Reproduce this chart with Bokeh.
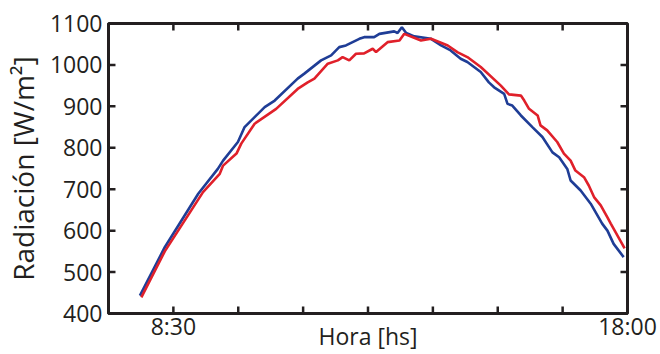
from bokeh.plotting import figure
from bokeh.models import FixedTicker, CustomJSTickFormatter, Range1d
from bokeh.embed import file_html
from bokeh.resources import INLINE

# Data (hours, W/m^2)
blue_h = [7.80, 8.32, 9.02, 9.43, 9.54, 9.85, 9.99, 10.41, 10.62, 11.10, 11.24, 11.59, 11.80,
          11.97, 12.11, 12.39, 12.49, 12.70, 12.81, 13.12, 13.19, 13.28, 13.37, 13.54, 13.89,
          14.10, 14.30, 14.51, 14.65, 14.93, 15.10, 15.21, 15.42, 15.49, 15.59, 15.77, 16.01,
          16.22, 16.43, 16.57, 16.74, 16.81, 17.02, 17.23, 17.47, 17.58, 17.71, 17.92]
blue_v = [443, 560, 689, 749, 769, 814, 850, 898, 914, 967, 979, 1011, 1023,
          1043, 1047, 1063, 1067, 1067, 1075, 1081, 1077, 1091, 1077, 1069, 1063,
          1047, 1035, 1015, 1007, 983, 958, 946, 930, 906, 902, 878, 850,
          826, 789, 777, 749, 721, 697, 665, 617, 600, 568, 536]

red_h = [7.83, 8.32, 9.12, 9.47, 9.54, 9.82, 9.92, 10.20, 10.65, 11.10, 11.31, 11.45, 11.73,
         11.94, 12.04, 12.18, 12.32, 12.49, 12.67, 12.74, 12.98, 13.23, 13.33, 13.51, 13.68,
         13.89, 14.24, 14.44, 14.65, 14.93, 15.35, 15.52, 15.77, 15.84, 15.94, 16.12, 16.18,
         16.32, 16.53, 16.67, 16.81, 16.91, 17.09, 17.19, 17.30, 17.44, 17.58, 17.65, 17.94]
red_v = [439, 550, 693, 737, 757, 786, 810, 858, 894, 942, 958, 967, 1003,
         1011, 1019, 1011, 1027, 1028, 1039, 1031, 1055, 1059, 1075, 1067, 1059,
         1063, 1047, 1031, 1019, 995, 950, 929, 926, 914, 894, 878, 854,
         842, 814, 786, 769, 745, 729, 709, 681, 661, 632, 617, 557]

x_start_label = 8.5
x_end_label = 18.0
n_intervals = 7
step = (x_end_label - x_start_label) / n_intervals
x_ticks = [x_start_label + k * step for k in range(-1, n_intervals + 1)]
y_ticks = [400, 500, 600, 700, 800, 900, 1000, 1100]

FONT = "Open Sans"
DARK = "#231f20"

x0, x1 = x_start_label - step, x_end_label
y0, y1 = 400, 1100

FW, FH = 520, 290   # frame size in px (for tick length conversion)
TICK_PX = 7

p = figure(width=660, height=354, output_backend="svg", toolbar_location=None,
           x_range=Range1d(x0, x1), y_range=Range1d(y0, y1),
           min_border_left=107, min_border_right=33, min_border_top=23, min_border_bottom=41)
p.grid.visible = False
p.outline_line_color = DARK
p.outline_line_width = 3
p.background_fill_color = "white"
p.border_fill_color = "white"

# inner ticks
dx = TICK_PX * (x1 - x0) / FW
dy = TICK_PX * (y1 - y0) / FH
xt_inner = [t for t in x_ticks if x0 < t < x1]
yt_inner = [t for t in y_ticks if y0 < t < y1]
tick_kw = dict(line_color=DARK, line_width=2.5)
p.segment(x0=xt_inner, y0=[y0] * len(xt_inner), x1=xt_inner, y1=[y0 + dy] * len(xt_inner), **tick_kw)
p.segment(x0=xt_inner, y0=[y1] * len(xt_inner), x1=xt_inner, y1=[y1 - dy] * len(xt_inner), **tick_kw)
p.segment(x0=[x0] * len(yt_inner), y0=yt_inner, x1=[x0 + dx] * len(yt_inner), y1=yt_inner, **tick_kw)
p.segment(x0=[x1] * len(yt_inner), y0=yt_inner, x1=[x1 - dx] * len(yt_inner), y1=yt_inner, **tick_kw)

p.line(blue_h, blue_v, line_color="#1f3d96", line_width=2.6)
p.line(red_h, red_v, line_color="#e0202a", line_width=2.6)

fmt = CustomJSTickFormatter(code="""
if (Math.abs(tick - 8.5) < 1e-6) return "8:30";
if (Math.abs(tick - 18) < 1e-6) return "18:00";
return "";
""")

def style(ax):
    ax.axis_line_color = DARK
    ax.axis_line_width = 3
    ax.major_tick_line_color = None
    ax.major_tick_in = 0
    ax.major_tick_out = 0
    ax.minor_tick_line_color = None
    ax.major_label_text_font = FONT
    ax.major_label_text_font_size = "23px"
    ax.major_label_text_color = DARK
    ax.axis_label_text_font = FONT
    ax.axis_label_text_font_style = "normal"
    ax.axis_label_text_color = DARK

xa = p.xaxis[0]
style(xa)
xa.ticker = FixedTicker(ticks=x_ticks)
xa.formatter = fmt
xa.major_label_standoff = -4
xa.axis_label = "Hora [hs]"
xa.axis_label_text_font_size = "23px"
xa.axis_label_standoff = -25

ya = p.yaxis[0]
style(ya)
ya.ticker = FixedTicker(ticks=y_ticks)
ya.major_label_standoff = 6
ya.axis_label = "Radiación [W/m²]"
ya.axis_label_text_font_size = "28px"
ya.axis_label_standoff = 5

open("out.html", "w").write(file_html(p, INLINE))
